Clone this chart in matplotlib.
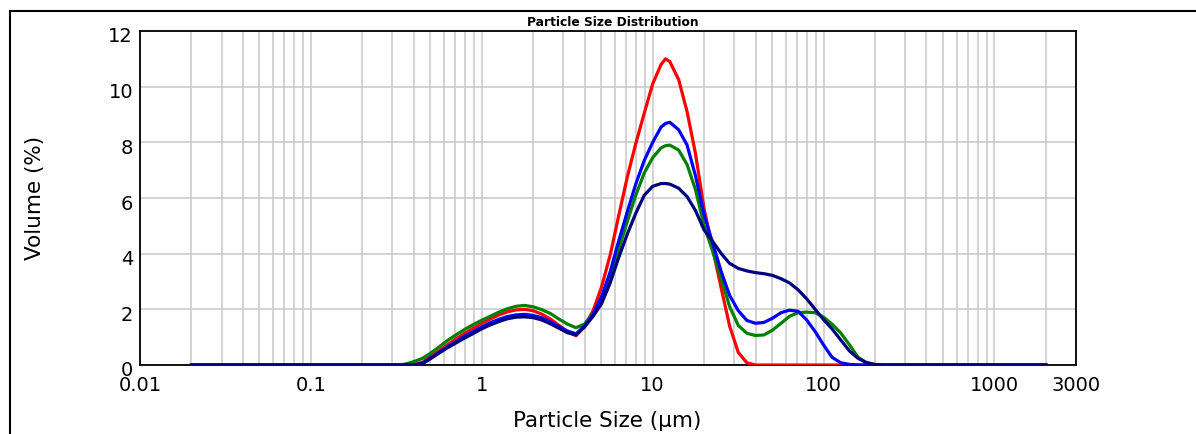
import matplotlib
matplotlib.use("Agg")
import matplotlib.pyplot as plt
from matplotlib.lines import Line2D
from matplotlib.ticker import FixedLocator, NullFormatter
import matplotlib.transforms as mtransforms

# ---------------- data ----------------
sizes = [0.02, 0.30, 0.35, 0.40, 0.45, 0.50, 0.56, 0.63, 0.71, 0.80,
         0.89, 1.00, 1.12, 1.26, 1.41, 1.59, 1.78, 2.00, 2.24, 2.52,
         2.83, 3.17, 3.56, 3.99, 4.48, 5.02, 5.64, 6.32, 7.10, 7.96,
         8.93, 10.0, 11.2, 11.9, 12.6, 14.2, 15.9, 17.8, 20.0, 22.4, 25.2,
         28.2, 31.7, 35.6, 39.9, 44.8, 50.2, 56.4, 63.2, 71.0, 79.6,
         89.3, 100, 112, 126, 142, 159, 178, 200, 224, 2000]

red_vals = [0, 0, 0, 0.02, 0.10, 0.30, 0.50, 0.73, 0.95, 1.15,
            1.32, 1.50, 1.65, 1.80, 1.91, 1.98, 2.00, 1.95, 1.83, 1.65,
            1.42, 1.20, 1.05, 1.40, 1.95, 2.80, 3.95, 5.35, 6.75, 7.95,
            9.05, 10.10, 10.80, 11.00, 10.90, 10.25, 9.10, 7.60, 5.60, 4.20, 2.75,
            1.40, 0.45, 0.08, 0, 0, 0, 0, 0, 0, 0,
            0, 0, 0, 0, 0, 0, 0, 0, 0, 0]

green_vals = [0, 0, 0.02, 0.12, 0.24, 0.42, 0.64, 0.88, 1.09, 1.29,
              1.45, 1.61, 1.75, 1.90, 2.02, 2.11, 2.14, 2.09, 1.99, 1.85,
              1.65, 1.47, 1.34, 1.47, 1.85, 2.35, 3.20, 4.15, 5.15, 6.10,
              6.90, 7.45, 7.80, 7.88, 7.90, 7.72, 7.20, 6.30, 5.00, 4.10, 3.10,
              2.10, 1.42, 1.14, 1.06, 1.08, 1.25, 1.50, 1.75, 1.88, 1.90,
              1.88, 1.72, 1.47, 1.15, 0.72, 0.28, 0.08, 0.01, 0, 0]

blue_vals = [0, 0, 0, 0, 0.06, 0.25, 0.45, 0.65, 0.85, 1.05,
             1.20, 1.37, 1.52, 1.64, 1.74, 1.80, 1.82, 1.78, 1.70, 1.55,
             1.38, 1.22, 1.12, 1.40, 1.82, 2.45, 3.35, 4.45, 5.50, 6.50,
             7.35, 8.00, 8.55, 8.68, 8.72, 8.45, 7.90, 6.80, 5.40, 4.40, 3.35,
             2.50, 1.95, 1.60, 1.50, 1.53, 1.68, 1.88, 1.97, 1.93, 1.62,
             1.20, 0.72, 0.28, 0.08, 0.02, 0, 0, 0, 0, 0]

navy_vals = [0, 0, 0, 0, 0.05, 0.22, 0.42, 0.62, 0.80, 0.98,
             1.13, 1.30, 1.44, 1.56, 1.66, 1.72, 1.73, 1.70, 1.62, 1.48,
             1.32, 1.16, 1.08, 1.36, 1.75, 2.20, 2.95, 3.85, 4.70, 5.45,
             6.10, 6.42, 6.52, 6.52, 6.50, 6.35, 6.05, 5.55, 4.85, 4.45, 4.00,
             3.65, 3.47, 3.38, 3.32, 3.28, 3.22, 3.10, 2.95, 2.70, 2.38,
             2.00, 1.63, 1.30, 0.90, 0.50, 0.24, 0.09, 0.02, 0, 0]

series = [("red", red_vals, "#ff0000"),
          ("green", green_vals, "#008000"),
          ("blue", blue_vals, "#0000ff"),
          ("navy", navy_vals, "#000080")]

x_major = [0.01, 0.1, 1, 10, 100, 1000, 3000]
x_major_labels = ["0.01", "0.1", "1", "10", "100", "1000", "3000"]
y_ticks = [0, 2, 4, 6, 8, 10, 12]

# ---------------- figure ----------------
W, H = 1196, 434
fig = plt.figure(figsize=(W / 100, H / 100), dpi=100)
fig.patch.set_facecolor("white")

ax_l, ax_r, ax_t, ax_b = 140, 1076, 31, 365
ax = fig.add_axes([ax_l / W, 1 - ax_b / H, (ax_r - ax_l) / W, (ax_b - ax_t) / H])

for name, vals, col in series:
    ax.plot(sizes, vals, color=col, lw=2.3, solid_joinstyle="round", zorder=3)

ax.set_xscale("log")
ax.set_xlim(0.01, 3000)
ax.set_ylim(0, 12)

minor = []
for dec in [0.01, 0.1, 1, 10, 100, 1000]:
    for m in range(2, 10):
        v = dec * m
        if v < 3000:
            minor.append(v)
ax.xaxis.set_major_locator(FixedLocator(x_major))
ax.set_xticklabels(x_major_labels)
ax.xaxis.set_minor_locator(FixedLocator(minor))
ax.xaxis.set_minor_formatter(NullFormatter())
ax.set_yticks(y_ticks)
ax.set_yticklabels([str(t) for t in y_ticks])

ax.grid(which="both", axis="x", color="#c8c8c8", lw=1.1, zorder=0)
ax.grid(which="major", axis="y", color="#c8c8c8", lw=1.1, zorder=0)
ax.set_axisbelow(True)

ax.tick_params(which="both", length=0)
ax.tick_params(axis="x", labelsize=14, pad=8)
ax.tick_params(axis="y", labelsize=14, pad=5)
for sp in ax.spines.values():
    sp.set_color("black")
    sp.set_linewidth(1.3)

offset = mtransforms.ScaledTranslation(0, -4 / 100, fig.dpi_scale_trans)
for lab in ax.get_yticklabels():
    lab.set_transform(lab.get_transform() + offset)

# labels and title
fig.text(613 / W, 1 - 22 / H, "Particle Size Distribution", ha="center", va="center",
         fontsize=8.8, fontweight="bold")
fig.text(607 / W, 1 - 421 / H, "Particle Size (\u03bcm)", ha="center", va="center",
         fontsize=15.5)
fig.text(35 / W, 1 - 198 / H, "Volume (%)", ha="center", va="center",
         fontsize=15.5, rotation=90)

# outer frame (partially visible)
fig.add_artist(Line2D([10 / W, 10 / W], [0, 1 - 11 / H], transform=fig.transFigure,
                      color="black", lw=1.5))
fig.add_artist(Line2D([10 / W, 1], [1 - 11 / H, 1 - 11 / H], transform=fig.transFigure,
                      color="black", lw=1.5))

fig.savefig("out.png", dpi=100)
